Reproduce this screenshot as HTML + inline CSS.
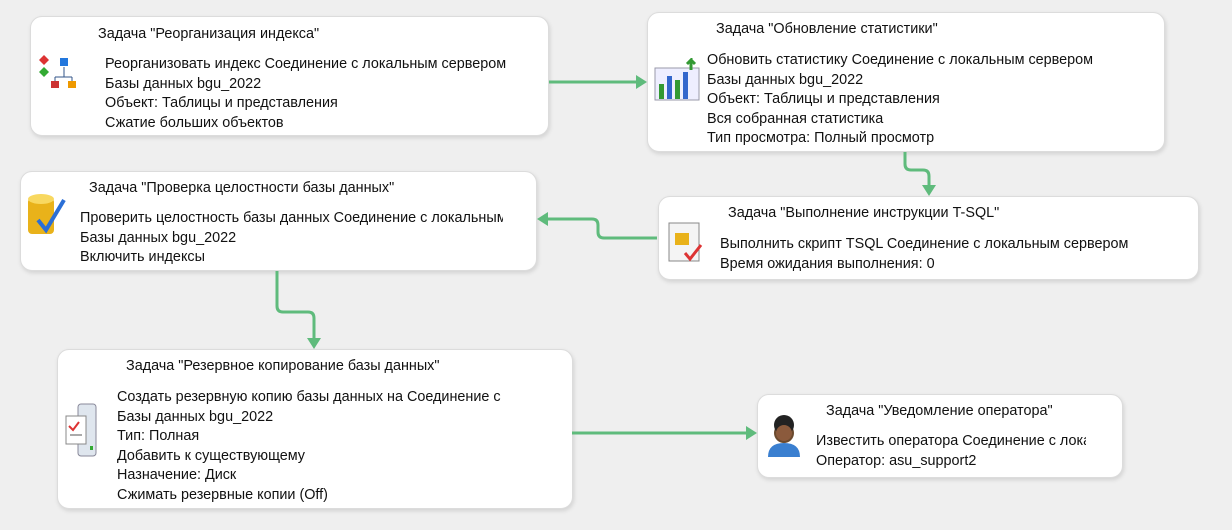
<!DOCTYPE html>
<html><head><meta charset="utf-8"><style>
body{margin:0;width:1232px;height:530px;background:#efefef;position:relative;overflow:hidden;font-family:"Liberation Sans","Noto Sans CJK SC",sans-serif;font-size:14.4px;color:#111}
.b{position:absolute;background:#fff;border:1px solid #dcdcdc;border-radius:12px;box-shadow:1px 2px 4px rgba(0,0,0,.12);overflow:hidden}
.t{position:absolute;white-space:nowrap}
.l{position:absolute;white-space:nowrap;line-height:19.6px;overflow:hidden}
svg{position:absolute;left:0;top:0}
</style></head><body>
<div class="b" style="left:30px;top:16px;width:517px;height:118px">
 <div class="t" style="left:67px;top:9px">Задача "Реорганизация индекса"</div>
 <div class="l" style="left:74px;top:38px;width:406px">Реорганизовать индекс Соединение с локальным сервером<br>Базы данных bgu_2022<br>Объект: Таблицы и представления<br>Сжатие больших объектов</div>
 <svg width="40" height="40" style="left:8px;top:38px"><path d="M5 0 L10 5 L5 10 L0 5Z" fill="#d33"/><path d="M5 12 L10 17 L5 22 L0 17Z" fill="#3a3"/><rect x="21" y="3" width="8" height="8" fill="#27d"/><path d="M25 12 V22 M16 22 H33 M16 22 V26 M33 22 V26" stroke="#358" fill="none"/><rect x="12" y="26" width="8" height="7" fill="#c33"/><rect x="29" y="26" width="8" height="7" fill="#e90"/></svg>
</div>
<div class="b" style="left:647px;top:12px;width:516px;height:138px">
 <div class="t" style="left:68px;top:8px">Задача "Обновление статистики"</div>
 <div class="l" style="left:59px;top:38px;width:450px">Обновить статистику Соединение с локальным сервером<br>Базы данных bgu_2022<br>Объект: Таблицы и представления<br>Вся собранная статистика<br>Тип просмотра: Полный просмотр</div>
 <svg width="50" height="45" style="left:5px;top:45px"><rect x="2" y="10" width="44" height="32" fill="#eef" stroke="#99a"/><rect x="6" y="26" width="5" height="15" fill="#393"/><rect x="14" y="18" width="5" height="23" fill="#36c"/><rect x="22" y="22" width="5" height="19" fill="#393"/><rect x="30" y="14" width="5" height="27" fill="#36c"/><path d="M38 12 L38 2 L34 6 M38 2 L42 6" stroke="#393" stroke-width="3" fill="none"/></svg>
</div>
<div class="b" style="left:20px;top:171px;width:515px;height:98px">
 <div class="t" style="left:68px;top:8px">Задача "Проверка целостности базы данных"</div>
 <div class="l" style="left:59px;top:37px;width:423px">Проверить целостность базы данных Соединение с локальным<br>Базы данных bgu_2022<br>Включить индексы</div>
 <svg width="45" height="50" style="left:5px;top:20px"><rect x="2" y="6" width="26" height="36" rx="4" fill="#e9b21a"/><ellipse cx="15" cy="7" rx="13" ry="5" fill="#f8d860"/><path d="M12 28 L20 38 L38 8" stroke="#2b6fd6" stroke-width="4" fill="none"/></svg>
</div>
<div class="b" style="left:658px;top:196px;width:539px;height:82px">
 <div class="t" style="left:69px;top:8px">Задача "Выполнение инструкции T-SQL"</div>
 <div class="l" style="left:61px;top:38px;width:470px">Выполнить скрипт TSQL Соединение с локальным сервером<br>Время ожидания выполнения: 0</div>
 <svg width="45" height="50" style="left:6px;top:22px"><rect x="4" y="4" width="30" height="38" fill="#f4f4f4" stroke="#888"/><rect x="10" y="14" width="14" height="12" fill="#e9b21a"/><path d="M20 34 L25 40 L36 26" stroke="#d33" stroke-width="3" fill="none"/></svg>
</div>
<div class="b" style="left:57px;top:349px;width:514px;height:158px">
 <div class="t" style="left:68px;top:8px">Задача "Резервное копирование базы данных"</div>
 <div class="l" style="left:59px;top:38px;width:420px">Создать резервную копию базы данных на Соединение с<br>Базы данных bgu_2022<br>Тип: Полная<br>Добавить к существующему<br>Назначение: Диск<br>Сжимать резервные копии (Off)</div>
 <svg width="40" height="60" style="left:6px;top:52px"><rect x="14" y="2" width="18" height="52" rx="3" fill="#dfe6ee" stroke="#889"/><rect x="2" y="14" width="20" height="28" fill="#fff" stroke="#888"/><path d="M5 24 L9 28 L15 20" stroke="#d33" stroke-width="2" fill="none"/><rect x="6" y="32" width="12" height="2" fill="#aaa"/><rect x="26" y="44" width="3" height="4" fill="#3a3"/></svg>
</div>
<div class="b" style="left:757px;top:394px;width:364px;height:82px">
 <div class="t" style="left:68px;top:8px">Задача "Уведомление оператора"</div>
 <div class="l" style="left:58px;top:37px;width:270px">Известить оператора Соединение с локальным<br>Оператор: asu_support2</div>
 <svg width="40" height="50" style="left:6px;top:18px"><path d="M4 44 Q4 30 20 30 Q36 30 36 44Z" fill="#3a7fd0"/><circle cx="20" cy="20" r="10" fill="#6b4a2e"/><circle cx="20" cy="12" r="10" fill="#222"/><circle cx="20" cy="20" r="8" fill="#8b5a3c"/></svg>
</div>
<svg width="1232" height="530"><g stroke="#5fbb7c" stroke-width="3" fill="none">
<path d="M549 82 H636"/>
<path d="M905 152 V164 Q905 170 911 170 H923 Q929 170 929 176 V186"/>
<path d="M657 238 H604 Q598 238 598 232 V225 Q598 219 592 219 H548"/>
<path d="M277 271 V306 Q277 312 283 312 H308 Q314 312 314 318 V338"/>
<path d="M572 433 H746"/>
</g><g fill="#5fbb7c">
<path d="M647 82 L636 75 L636 89Z"/>
<path d="M929 196 L922 185 L936 185Z"/>
<path d="M537 219 L548 212 L548 226Z"/>
<path d="M314 349 L307 338 L321 338Z"/>
<path d="M757 433 L746 426 L746 440Z"/>
</g></svg>
</body></html>
